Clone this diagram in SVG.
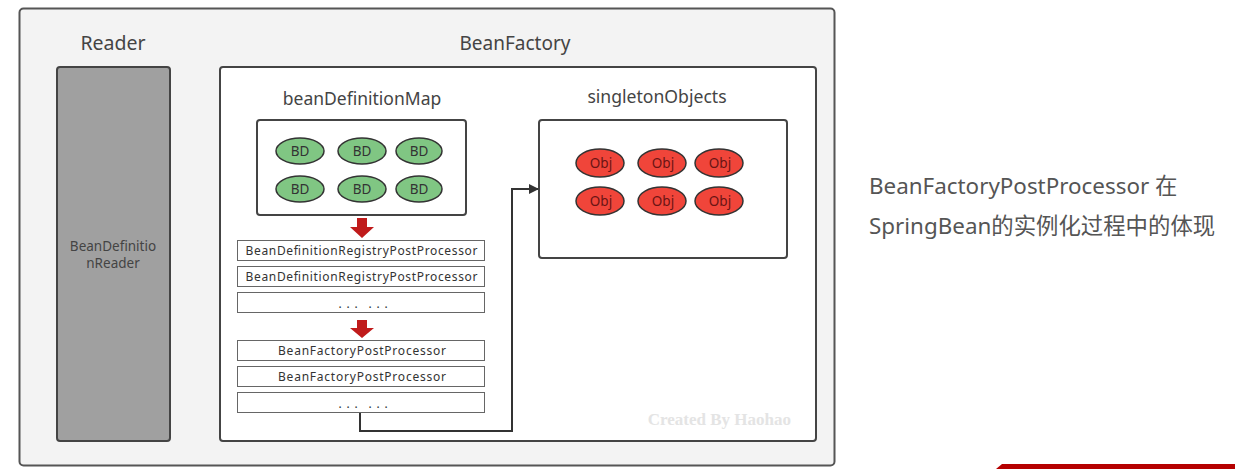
<svg xmlns="http://www.w3.org/2000/svg" width="1235" height="469" viewBox="0 0 1235 469">
<defs>
<style>
.t{font-family:"Noto Sans","Open Sans","Noto Sans CJK SC",sans-serif;fill:#444;text-anchor:middle}
.title{font-size:19.5px}
.sub{font-size:17.6px}
.bd{fill:#80c683;stroke:#333;stroke-width:1.5}
.obj{fill:#f0453a;stroke:#333;stroke-width:1.5}
.el{font-family:"Noto Sans","Open Sans",sans-serif;font-size:13.5px;text-anchor:middle}
.proc{fill:#fff;stroke:#666;stroke-width:1}
.pt{font-family:"Noto Sans","Open Sans",sans-serif;font-size:12px;fill:#333;text-anchor:middle}
.red{fill:#c01b1b}
</style>
<marker id="ah" viewBox="0 0 10 10" refX="9" refY="5" markerWidth="10" markerHeight="10" markerUnits="userSpaceOnUse" orient="auto">
<path d="M0,0 L10,5 L0,10 Z" fill="#333"/>
</marker>
</defs>
<rect width="1235" height="469" fill="#fff"/>
<g id="outer">
<rect x="19.5" y="8.5" width="815" height="457" rx="4" fill="#f3f3f3" stroke="#555" stroke-width="2"/>
</g>
<g id="reader">
<text class="t title" x="113" y="50">Reader</text>
<rect x="57" y="67" width="113" height="374" rx="3" fill="#a0a0a0" stroke="#444" stroke-width="2"/>
<text class="t" x="113" y="251" font-size="13.5" fill="#555">BeanDefinitio</text>
<text class="t" x="113" y="268" font-size="13.5" fill="#555">nReader</text>
</g>
<g id="beanFactory">
<text class="t" x="515" y="50" font-size="19">BeanFactory</text>
<rect x="220" y="67" width="596" height="374" rx="3" fill="#fff" stroke="#444" stroke-width="2"/>
<text x="791" y="425" font-family="Liberation Serif,serif" font-weight="bold" font-size="17" fill="#e4e4e4" text-anchor="end">Created By Haohao</text>
</g>
<g id="beanDefinitionMap">
<text class="t" x="362" y="105" font-size="17.5">beanDefinitionMap</text>
<rect x="257" y="120" width="209" height="95" rx="3" fill="#fff" stroke="#444" stroke-width="2"/>
<ellipse class="bd" cx="300" cy="151" rx="24" ry="13"/>
<ellipse class="bd" cx="362" cy="151" rx="24" ry="13"/>
<ellipse class="bd" cx="419" cy="151" rx="23" ry="13"/>
<ellipse class="bd" cx="300" cy="189" rx="24" ry="13"/>
<ellipse class="bd" cx="362" cy="189" rx="24" ry="13"/>
<ellipse class="bd" cx="419" cy="189" rx="23" ry="13"/>
<text class="el" fill="#333" x="300" y="156">BD</text>
<text class="el" fill="#333" x="362" y="156">BD</text>
<text class="el" fill="#333" x="419" y="156">BD</text>
<text class="el" fill="#333" x="300" y="194">BD</text>
<text class="el" fill="#333" x="362" y="194">BD</text>
<text class="el" fill="#333" x="419" y="194">BD</text>
</g>
<g id="singletonObjects">
<text class="t sub" x="657" y="103">singletonObjects</text>
<rect x="539" y="120" width="248" height="138" rx="3" fill="#fff" stroke="#444" stroke-width="2"/>
<ellipse class="obj" cx="600" cy="163" rx="24" ry="14"/>
<ellipse class="obj" cx="662" cy="163" rx="24" ry="14"/>
<ellipse class="obj" cx="719" cy="163" rx="24" ry="14"/>
<ellipse class="obj" cx="600" cy="201" rx="24" ry="14"/>
<ellipse class="obj" cx="662" cy="201" rx="24" ry="14"/>
<ellipse class="obj" cx="719" cy="201" rx="24" ry="14"/>
<text class="el" fill="#6a1414" x="601" y="168">Obj</text>
<text class="el" fill="#6a1414" x="663" y="168">Obj</text>
<text class="el" fill="#6a1414" x="720" y="168">Obj</text>
<text class="el" fill="#6a1414" x="601" y="206">Obj</text>
<text class="el" fill="#6a1414" x="663" y="206">Obj</text>
<text class="el" fill="#6a1414" x="720" y="206">Obj</text>
</g>
<g id="arrow1">
<path class="red" d="M357,218 H367 V227 H374 L362,238 L350,227 H357 Z"/>
</g>
<g id="registryProcessors">
<rect class="proc" x="237.5" y="240.5" width="247" height="20"/>
<text class="pt" x="361.5" y="255" textLength="232" lengthAdjust="spacing">BeanDefinitionRegistryPostProcessor</text>
<rect class="proc" x="237.5" y="266.5" width="247" height="20"/>
<text class="pt" x="361.5" y="281" textLength="232" lengthAdjust="spacing">BeanDefinitionRegistryPostProcessor</text>
<rect class="proc" x="237.5" y="292.5" width="247" height="20"/>
<text class="pt" x="340 348 356 370 378 386" y="308">......</text>
</g>
<g id="arrow2">
<path class="red" d="M357,320 H367 V328 H374 L362,338 L350,328 H357 Z"/>
</g>
<g id="factoryProcessors">
<rect class="proc" x="237.5" y="340.5" width="247" height="20"/>
<text class="pt" x="362" y="355" textLength="168" lengthAdjust="spacing">BeanFactoryPostProcessor</text>
<rect class="proc" x="237.5" y="366.5" width="247" height="20"/>
<text class="pt" x="362" y="381" textLength="168" lengthAdjust="spacing">BeanFactoryPostProcessor</text>
<rect class="proc" x="237.5" y="392.5" width="247" height="20"/>
<text class="pt" x="340 348 356 370 378 386" y="408">......</text>
</g>
<g id="connectors">
<path d="M360,413 V431 H512 V189 H538" fill="none" stroke="#333" stroke-width="2" marker-end="url(#ah)"/>
</g>
<g id="caption">
<text x="869" y="194" font-family="Noto Sans,Noto Sans CJK SC,sans-serif" font-size="22.4" fill="#555">BeanFactoryPostProcessor 在</text>
<text x="869" y="234" font-family="Noto Sans,Noto Sans CJK SC,sans-serif" font-size="22.4" fill="#555">SpringBean的实例化过程中的体现</text>
</g>
<g id="footerBar">
<path d="M1002,464 H1235 V469 H996 Z" fill="#b50000"/>
</g>
</svg>
